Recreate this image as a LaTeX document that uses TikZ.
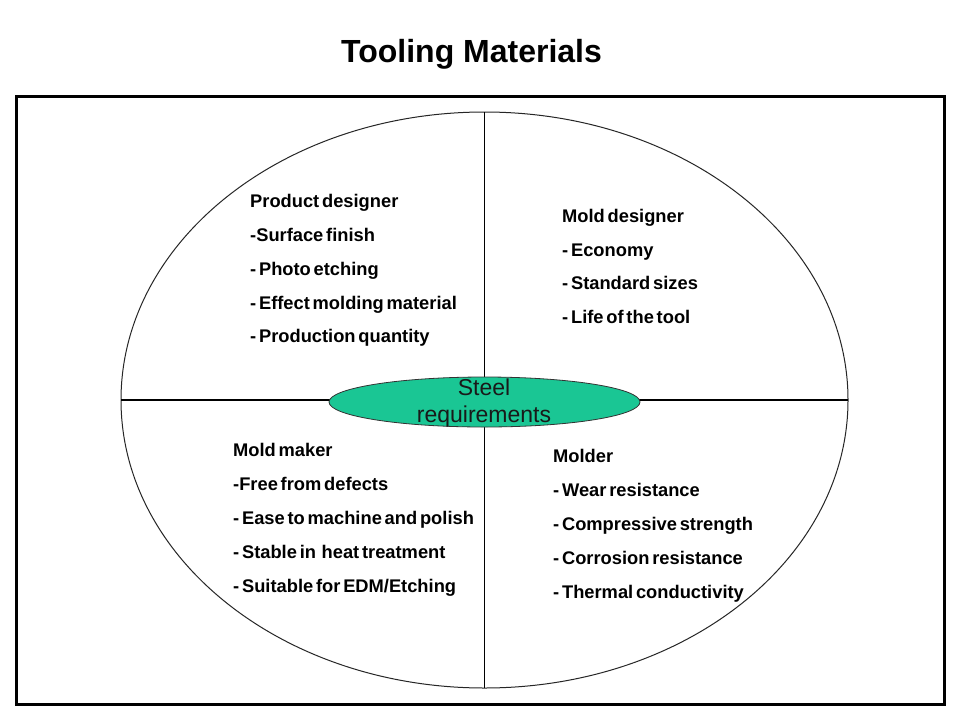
\documentclass[tikz,border=0pt]{standalone}
\usepackage{fontspec}
\setmainfont{Liberation Sans}
\newfontfamily\bodyfont[WordSpace=0.55]{Liberation Sans}
\usetikzlibrary{shapes.geometric}
\definecolor{steelgreen}{RGB}{26,198,148}
\tikzset{
  frame/.style={draw=black, line width=3pt},
  bigoval/.style={draw=black!85, line width=1pt, ellipse, outer sep=0pt, inner sep=0pt,
    minimum width=727pt, minimum height=576pt},
  divider/.style={draw=black, line width=1.2pt},
  centeroval/.style={draw=black!80, line width=0.8pt, fill=steelgreen, ellipse, outer sep=0pt,
    inner sep=0pt, minimum width=311pt, minimum height=50pt},
  titletext/.style={font=\fontsize{32}{35}\selectfont\bfseries, anchor=base, inner sep=0pt},
  itemtext/.style={font=\bodyfont\fontsize{18.3}{20}\selectfont\bfseries, anchor=base west, inner sep=0pt},
  steeltext/.style={font=\fontsize{23}{26}\selectfont, anchor=base, inner sep=0pt, text=black!90}
}
\begin{document}
\begin{tikzpicture}[x=1pt, y=-1pt]
\useasboundingbox (0,0) rectangle (960,720);
\fill[white] (0,0) rectangle (960,720);
\node[titletext] (title) at (471.5,62.5) {Tooling Materials};
\draw[frame] (16,96) rectangle (944,704);
\node[bigoval] (big) at (484.5,400) {};
\draw[divider] (big.north) -- (big.south);
\draw[divider] (big.west) -- (big.east);
\node[centeroval] (core) at (484.5,402) {};
\node[steeltext] (steel1) at (484,395) {Steel};
\node[steeltext] (steel2) at (484,422) {requirements};
% Product designer
\node[itemtext] (pd0) at (250,207.5) {Product designer};
\node[itemtext] (pd1) at (250,241.5) {-Surface finish};
\node[itemtext] (pd2) at (250,275) {- Photo etching};
\node[itemtext] (pd3) at (250,309) {- Effect molding material};
\node[itemtext] (pd4) at (250,342.7) {- Production quantity};
% Mold designer
\node[itemtext] (md0) at (562,222.3) {Mold designer};
\node[itemtext] (md1) at (562,256) {- Economy};
\node[itemtext] (md2) at (562,289.7) {- Standard sizes};
\node[itemtext] (md3) at (562,323.3) {- Life of the tool};
% Mold maker
\node[itemtext] (mm0) at (233,456.7) {Mold maker};
\node[itemtext] (mm1) at (233,490.5) {-Free from defects};
\node[itemtext] (mm2) at (233,524) {- Ease to machine and polish};
\node[itemtext] (mm3) at (233,558) {- Stable in\ \ heat treatment};
\node[itemtext] (mm4) at (233,592) {- Suitable for EDM/Etching};
% Molder
\node[itemtext] (ml0) at (553,462.7) {Molder};
\node[itemtext] (ml1) at (553,496.7) {- Wear resistance};
\node[itemtext] (ml2) at (553,530.5) {- Compressive strength};
\node[itemtext] (ml3) at (553,564.3) {- Corrosion resistance};
\node[itemtext] (ml4) at (553,598) {- Thermal conductivity};
\end{tikzpicture}
\end{document}
